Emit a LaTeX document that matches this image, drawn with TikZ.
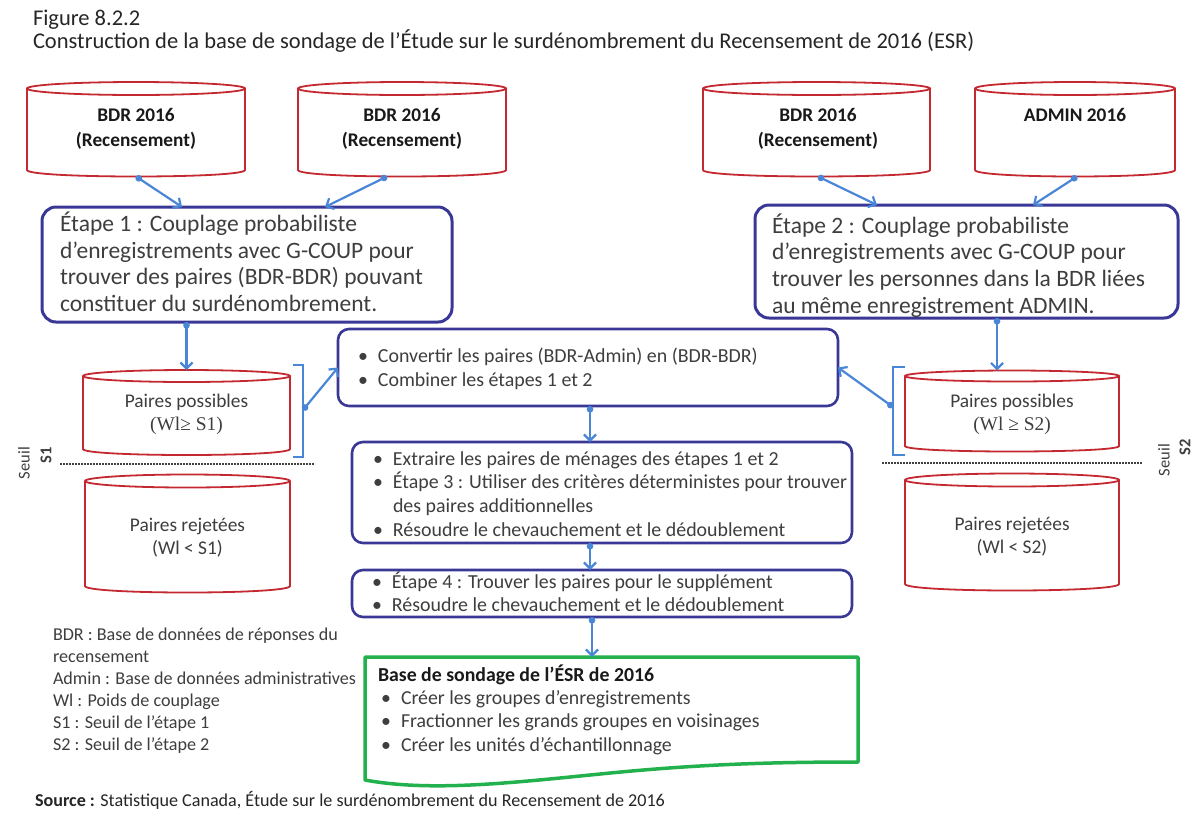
\documentclass[tikz,border=0pt]{standalone}
\usepackage{fontspec}
\setmainfont{Carlito}
\newfontfamily\wlfont{Liberation Serif}
\usetikzlibrary{arrows.meta,calc,fit}
\definecolor{cylred}{RGB}{196,40,48}
\definecolor{boxblue}{RGB}{58,56,150}
\definecolor{arrblue}{RGB}{74,134,216}
\definecolor{grn}{RGB}{34,177,76}
\definecolor{txt}{RGB}{62,62,62}
\newcommand\cylat[2]{%
  \draw[cylline] (#1.north west) -- (#1.south west)
    .. controls ([yshift=-#2*1.3333pt]#1.south west) and ([yshift=-#2*1.3333pt]#1.south east) .. (#1.south east) -- (#1.north east);
  \path let \p1=($(#1.north east)-(#1.north west)$) in
    [cylline,draw] (#1.north) ellipse [x radius=0.5*\x1, y radius=#2pt];
}
\newcommand\bl{\makebox[20pt][l]{\textbullet}}
\begin{document}
\begin{tikzpicture}[x=1pt,y=-1pt,
  every node/.style={inner sep=0pt, outer sep=0pt, text=txt},
  cylline/.style={draw=cylred, line width=1.8pt},
  body/.style={inner sep=0pt, draw=none},
  stepbox/.style={draw=boxblue, line width=3pt, rounded corners=14pt, inner sep=0pt},
  midbox/.style={draw=boxblue, line width=2.6pt, rounded corners=11pt, inner sep=0pt},
  grnline/.style={draw=grn, line width=3.5pt, line join=round},
  conn/.style={draw=arrblue, line width=2.2pt, {Circle[length=6.5pt]}-{Straight Barb[length=6pt,width=12pt]}},
  brk/.style={draw=arrblue, line width=2.2pt},
  dots/.style={draw=black!75, line width=1.6pt, dash pattern=on 1.6pt off 1.4pt},
  ttl/.style={font=\fontsize{22.5}{26}\selectfont, anchor=base west, text=black!85},
  cyltxt/.style={font=\fontsize{19.3}{25}\selectfont\bfseries, anchor=base, text=black!90},
  steptxt/.style={font=\fontsize{23.5}{26.7}\selectfont, anchor=base west},
  midtxt/.style={font=\fontsize{19.9}{23.7}\selectfont, anchor=base west},
  pairtxt/.style={font=\fontsize{19.4}{23}\selectfont, anchor=base},
  legtxt/.style={font=\fontsize{18.1}{22}\selectfont, anchor=base west},
  seuiltxt/.style={font=\fontsize{16.5}{18}\selectfont, rotate=90, anchor=center},
]
\useasboundingbox (0,0) rectangle (1193,812);
\fill[white] (0,0) rectangle (1193,812);

% titles
\node[ttl] (t1) at (33,25) {Figure 8.2.2};
\node[ttl] (t2) at (33,48.5) {Construction de la base de sondage de l’Étude sur le surdénombrement du Recensement de 2016 (ESR)};

% cylinders
\node[body, fit={(27,88.5) (245,170)}] (c1) {};
\node[body, fit={(298,88.5) (506,170)}] (c2) {};
\node[body, fit={(703,88.5) (930,170)}] (c3) {};
\node[body, fit={(975,88.5) (1175,170)}] (c4) {};
\cylat{c1}{6.5}\cylat{c2}{6.5}\cylat{c3}{6.5}\cylat{c4}{6.5}
\node[cyltxt] (c1t) at (136,121) {\parbox[t]{200pt}{\centering BDR 2016\\(Recensement)}};
\node[cyltxt] (c2t) at (402,121) {\parbox[t]{200pt}{\centering BDR 2016\\(Recensement)}};
\node[cyltxt] (c3t) at (818,121) {\parbox[t]{200pt}{\centering BDR 2016\\(Recensement)}};
\node[cyltxt] (c4t) at (1075,121) {ADMIN 2016};

% step boxes
\node[stepbox, fit={(42,207) (452,322)}] (s1) {};
\node[stepbox, fit={(755,205) (1178,318)}] (s2) {};
\node[steptxt] (s1t) at (60,231.5) {\parbox[t]{390pt}{Étape 1 : Couplage probabiliste\\d’enregistrements avec G-COUP pour\\trouver des paires (BDR-BDR) pouvant\\constituer du surdénombrement.}};
\node[steptxt] (s2t) at (772,233) {\parbox[t]{400pt}{Étape 2 : Couplage probabiliste\\d’enregistrements avec G-COUP pour\\trouver les personnes dans la BDR liées\\au même enregistrement ADMIN.}};

% paires cylinders
\node[body, fit={(83,376) (290,449)}] (p1) {};
\node[body, fit={(85,481) (290,586)}] (r1) {};
\node[body, fit={(905,376) (1119,446)}] (p2) {};
\node[body, fit={(905,480) (1119,584)}] (r2) {};
\cylat{p1}{6}\cylat{r1}{6.5}\cylat{p2}{5.5}\cylat{r2}{6.5}
\node[pairtxt] (p1t) at (186.5,407) {\parbox[t]{200pt}{\centering Paires possibles\\{\wlfont (Wl≥ S1)}}};
\node[pairtxt] (r1t) at (187.5,531) {\parbox[t]{200pt}{\centering Paires rejetées\\(Wl < S1)}};
\node[pairtxt] (p2t) at (1012,407) {\parbox[t]{200pt}{\centering Paires possibles\\{\wlfont (Wl ≥ S2)}}};
\node[pairtxt] (r2t) at (1012,530) {\parbox[t]{200pt}{\centering Paires rejetées\\(Wl < S2)}};

% thresholds
\coordinate (d1a) at (60,464); \coordinate (d1b) at (315,464);
\coordinate (d2a) at (882,463); \coordinate (d2b) at (1142,463);
\draw[dots] (d1a) -- (d1b);
\draw[dots] (d2a) -- (d2b);
\node[seuiltxt] (se1) at (24,463) {Seuil};
\node[seuiltxt, font=\fontsize{16.5}{18}\selectfont\bfseries] (se1b) at (46,455) {S1};
\node[seuiltxt] (se2) at (1164,460) {Seuil};
\node[seuiltxt, font=\fontsize{16.5}{18}\selectfont\bfseries] (se2b) at (1185,447) {S2};

% brackets
\draw[brk] (293,365) -- (303,365) -- (303,457) -- (293,457);
\draw[brk] (905,367) -- (893,367) -- (893,455) -- (905,455);
\coordinate (b1) at (303,410);
\coordinate (b2) at (893,407);

% middle boxes
\node[midbox, fit={(338,329) (838,406)}] (m1) {};
\node[midbox, fit={(352,442) (852,543)}] (m2) {};
\node[midbox, fit={(352,570) (852,617)}] (m3) {};
\node[midtxt] (m1t) at (358,362.7) {\parbox[t]{470pt}{\bl Convertir les paires (BDR-Admin) en (BDR-BDR)\\\bl Combiner les étapes 1 et 2}};
\node[midtxt] (m2t) at (373,465) {\parbox[t]{480pt}{\bl Extraire les paires de ménages des étapes 1 et 2\\\bl Étape 3 : Utiliser des critères déterministes pour trouver\\\hspace*{20pt}des paires additionnelles\\\bl Résoudre le chevauchement et le dédoublement}};
\node[midtxt] (m3t) at (372,588) {\parbox[t]{470pt}{\bl Étape 4 : Trouver les paires pour le supplément\\\bl Résoudre le chevauchement et le dédoublement}};

% green box
\node[body, fit={(365,657) (858,780)}] (g) {};
\draw[grnline] (g.south west) -- (g.north west) -- (g.north east) -- (858,762)
  .. controls (760,762) and (690,765) .. (600,774)
  .. controls (510,783) and (430,792) .. (g.south west) -- cycle;
\node[midtxt, font=\fontsize{19.8}{23.5}\selectfont\bfseries, text=black!90] (gt) at (378,681.7) {Base de sondage de l’ÉSR de 2016};
\node[midtxt, font=\fontsize{19.8}{23.7}\selectfont] (gl) at (381,704) {\parbox[t]{470pt}{\bl Créer les groupes d’enregistrements\\\bl Fractionner les grands groupes en voisinages\\\bl Créer les unités d’échantillonnage}};

% legend and source
\node[legtxt] (leg) at (53,640) {\parbox[t]{320pt}{BDR : Base de données de réponses du\\recensement\\Admin : Base de données administratives\\Wl : Poids de couplage\\S1 : Seuil de l’étape 1\\S2 : Seuil de l’étape 2}};
\node[legtxt, text=black!85] (src) at (35,806.5) {\textbf{Source :} Statistique Canada, Étude sur le surdénombrement du Recensement de 2016};

% connectors
\draw[conn] ([yshift=-6.5pt]c1.south) -- ($(s1.north west)+(140,0)$);
\draw[conn] ($(c2.south)+(-15,6.5)$) -- ($(s1.north west)+(283,0)$);
\draw[conn] ($(c3.south)+(1.5,6.5)$) -- ($(s2.north west)+(122,0)$);
\draw[conn] ($(c4.south)+(2,6.5)$) -- ($(s2.north west)+(278,0)$);
\draw[conn] ($(s1.south west)+(144.5,0)$) -- ([yshift=6pt]p1.north);
\draw[conn] ($(s2.south west)+(242,0)$) -- ($(p2.north)+(-15,-5.5)$);
\draw[conn] (b1) -- (m1.west);
\draw[conn] (b2) -- (m1.east);
\draw[conn] ($(m1.south west)+(252,0)$) -- ($(m2.north west)+(238,0)$);
\draw[conn] ($(m2.south west)+(238,0)$) -- ($(m3.north west)+(238,0)$);
\draw[conn] ($(m3.south west)+(240,0)$) -- ($(g.north west)+(227,0)$);
\end{tikzpicture}
\end{document}
